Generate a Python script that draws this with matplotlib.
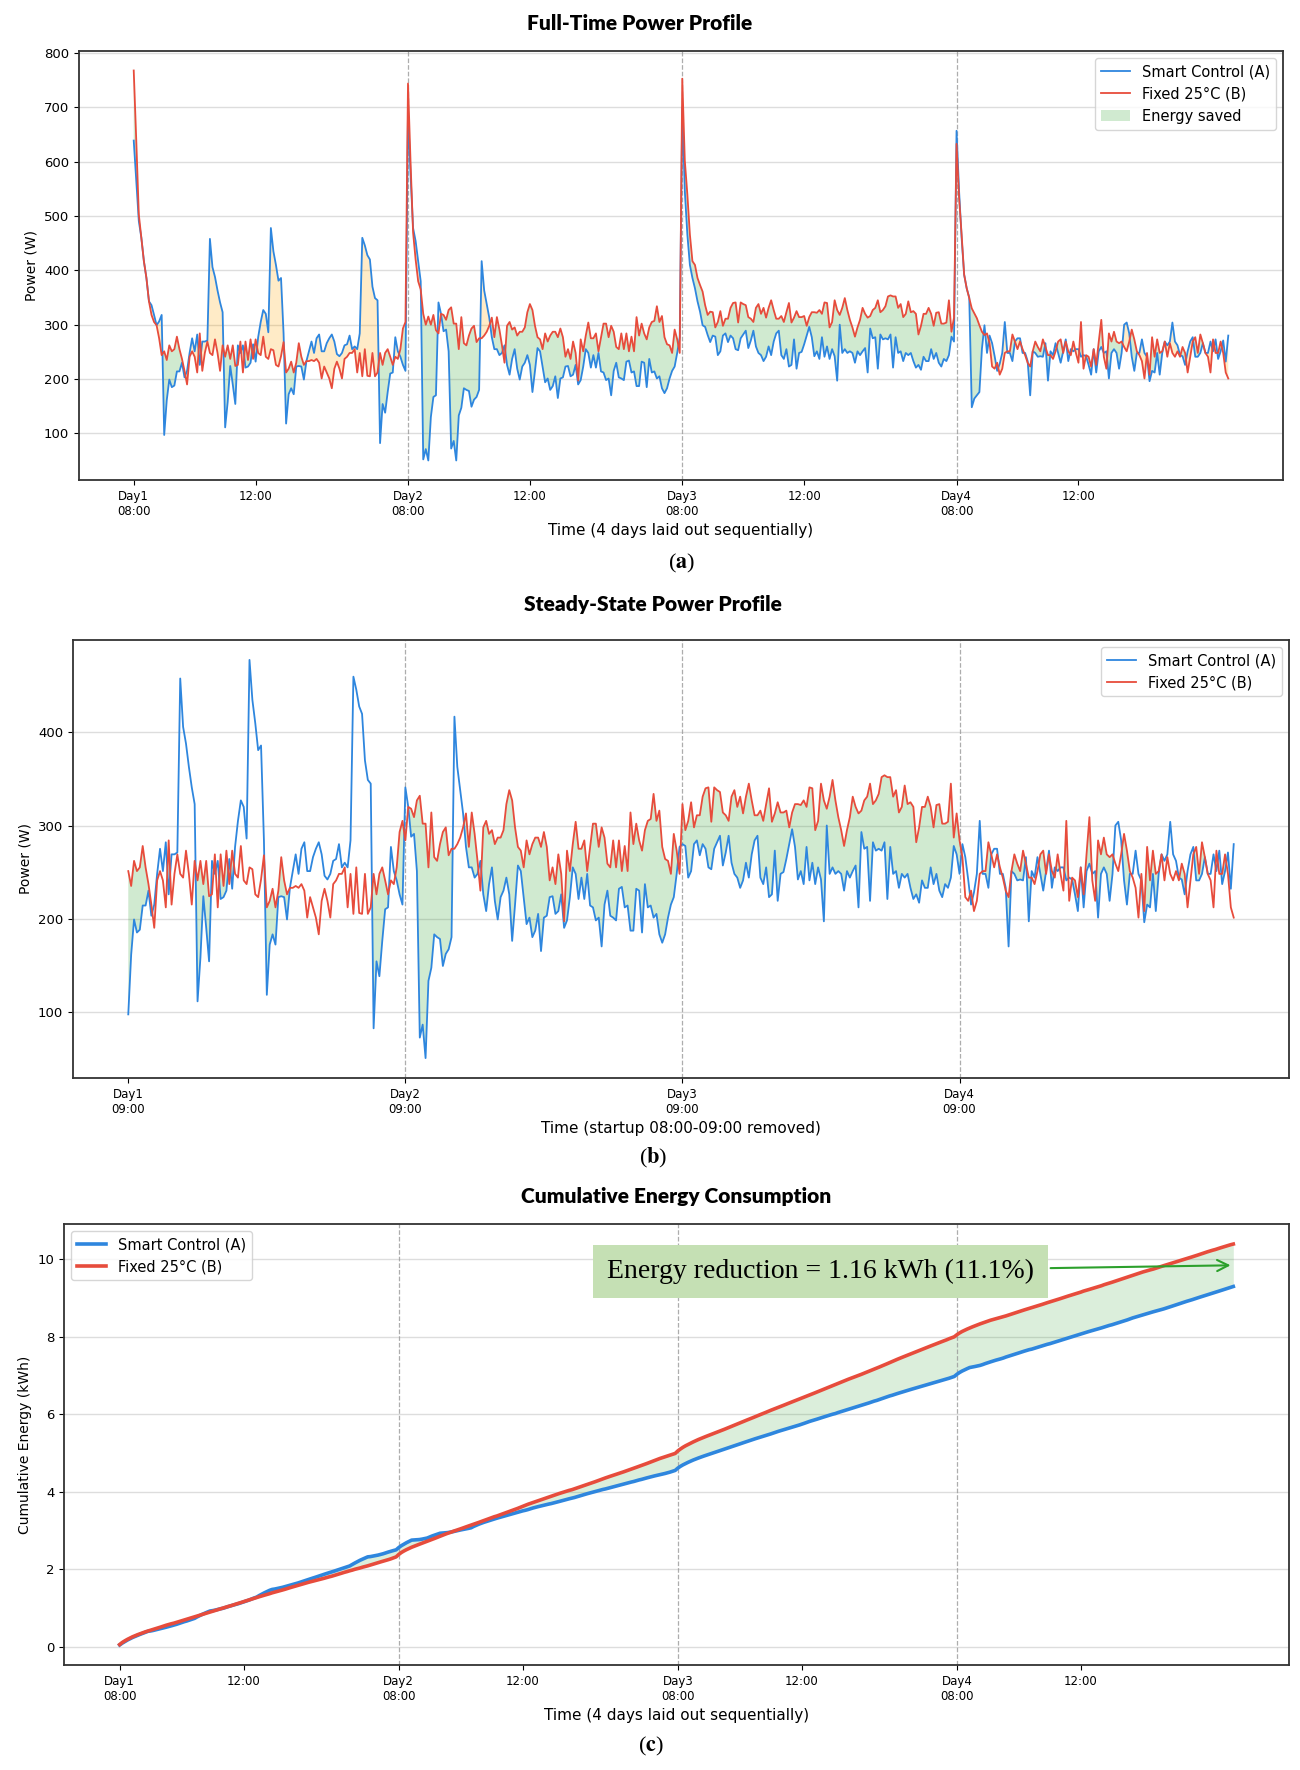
import numpy as np
import matplotlib
matplotlib.use("Agg")
import matplotlib.pyplot as plt
from matplotlib.patches import Patch

# ---------------- data (W, 5-minute samples, 08:00-16:55 each day) ----------------
smart_day1 = [639, 565, 491, 460, 417, 386, 343, 336, 318, 299, 306, 318,
              97, 161, 199, 185, 188, 214, 214, 230, 203, 215,
              248, 275, 251, 282, 226, 269, 269, 271, 458, 406,
              388, 363, 341, 323, 111, 158, 224, 190, 154, 262,
              248, 262, 221, 223, 230, 264, 232, 277, 305, 327,
              320, 286, 478, 435, 410, 381, 386, 284, 118, 172,
              183, 172, 223, 224, 223, 199, 233, 251, 269, 248,
              275, 282, 251, 251, 266, 275, 282, 269, 246, 242,
              248, 262, 264, 280, 255, 260, 255, 284, 460, 446,
              428, 420, 370, 349, 345, 82, 154, 138, 176, 210,
              212, 277, 251, 241, 226, 215]
fixed_day1 = [768, 639, 503, 460, 417, 386, 343, 318, 305, 299, 275, 244,
              251, 235, 262, 251, 255, 278, 255, 237, 215, 190,
              241, 251, 241, 212, 284, 215, 248, 269, 248, 244,
              273, 248, 215, 262, 241, 262, 237, 262, 224, 226,
              269, 212, 269, 235, 273, 237, 273, 248, 244, 278,
              241, 237, 255, 253, 226, 223, 242, 268, 212, 219,
              232, 212, 230, 266, 241, 226, 233, 233, 235, 233,
              237, 230, 201, 223, 212, 201, 183, 219, 232, 219,
              201, 237, 241, 248, 248, 255, 212, 248, 205, 255,
              206, 205, 248, 205, 212, 248, 226, 248, 255, 241,
              226, 241, 237, 255, 293, 305]
smart_day2 = [694, 577, 478, 454, 417, 380, 52, 71, 50, 130, 167, 170,
              341, 320, 288, 291, 251, 72, 86, 50, 133, 147,
              183, 180, 178, 149, 162, 167, 180, 417, 363, 338,
              313, 277, 255, 255, 244, 248, 262, 226, 208, 237,
              255, 219, 199, 223, 230, 244, 226, 176, 215, 257,
              251, 223, 194, 201, 180, 187, 205, 165, 201, 203,
              223, 224, 205, 208, 226, 190, 198, 223, 255, 248,
              221, 244, 221, 248, 214, 212, 198, 201, 170, 215,
              230, 203, 201, 198, 232, 234, 212, 214, 187, 187,
              232, 230, 185, 237, 212, 214, 201, 205, 183, 174,
              183, 201, 215, 223, 248, 277]
fixed_day2 = [744, 600, 470, 420, 380, 365, 320, 300, 315, 300, 318, 290,
              284, 320, 318, 309, 327, 332, 302, 302, 255, 314,
              266, 262, 280, 293, 298, 268, 275, 275, 280, 287,
              298, 313, 277, 314, 291, 262, 230, 298, 305, 291,
              295, 280, 287, 287, 295, 323, 338, 327, 298, 277,
              273, 255, 284, 269, 280, 287, 287, 277, 293, 277,
              241, 255, 237, 269, 248, 197, 273, 251, 280, 304,
              275, 275, 284, 251, 277, 302, 302, 277, 298, 287,
              259, 255, 284, 255, 284, 251, 278, 251, 314, 280,
              302, 284, 273, 295, 305, 307, 334, 305, 316, 277,
              264, 262, 248, 291, 273, 248]
smart_day3 = [700, 546, 466, 410, 386, 367, 343, 324, 299, 296, 281, 268,
              280, 278, 244, 251, 280, 284, 268, 280, 275, 255,
              253, 275, 282, 289, 257, 271, 289, 260, 248, 244,
              233, 241, 260, 244, 269, 284, 289, 244, 237, 255,
              223, 226, 273, 219, 248, 250, 264, 280, 296, 277,
              242, 251, 237, 277, 241, 260, 237, 255, 242, 197,
              300, 248, 255, 248, 251, 248, 230, 251, 244, 251,
              257, 212, 293, 275, 277, 219, 282, 273, 275, 273,
              282, 221, 277, 248, 251, 233, 248, 244, 248, 233,
              221, 226, 217, 241, 233, 233, 255, 237, 248, 230,
              223, 237, 233, 244, 278, 269]
fixed_day3 = [753, 602, 540, 466, 417, 410, 386, 373, 361, 336, 318, 324,
              323, 295, 305, 325, 298, 311, 311, 331, 340, 341,
              304, 341, 338, 336, 314, 311, 305, 331, 338, 320,
              331, 313, 331, 345, 327, 311, 311, 316, 305, 323,
              340, 304, 313, 325, 314, 314, 316, 298, 314, 323,
              323, 322, 327, 320, 341, 340, 295, 305, 345, 327,
              318, 331, 349, 327, 309, 295, 278, 295, 309, 331,
              320, 313, 316, 327, 331, 345, 323, 327, 334, 352,
              354, 352, 352, 331, 338, 314, 320, 343, 323, 325,
              320, 282, 298, 320, 320, 331, 320, 298, 322, 323,
              302, 302, 304, 345, 287, 313]
smart_day4 = [657, 546, 460, 392, 367, 350, 148, 164, 170, 176, 256, 299,
              248, 280, 266, 242, 215, 228, 248, 305, 248, 248,
              233, 269, 275, 275, 248, 248, 233, 170, 251, 248,
              241, 242, 241, 266, 197, 251, 244, 266, 248, 230,
              251, 273, 233, 255, 251, 255, 255, 241, 244, 242,
              226, 208, 255, 212, 251, 259, 248, 251, 201, 248,
              255, 248, 219, 248, 300, 304, 284, 241, 215, 248,
              248, 273, 248, 241, 196, 215, 212, 248, 208, 248,
              269, 262, 269, 304, 269, 262, 244, 242, 226, 251,
              269, 277, 241, 241, 248, 266, 248, 248, 269, 251,
              273, 237, 251, 271, 232, 280]
fixed_day4 = [633, 534, 466, 392, 367, 349, 330, 321, 312, 299, 287, 281,
              284, 266, 223, 219, 230, 208, 219, 248, 251, 251,
              282, 269, 255, 269, 255, 244, 230, 223, 251, 269,
              259, 251, 273, 259, 244, 244, 237, 251, 269, 273,
              248, 269, 251, 244, 269, 248, 230, 305, 219, 244,
              241, 223, 255, 226, 269, 309, 241, 219, 284, 269,
              287, 269, 266, 269, 259, 251, 269, 291, 273, 251,
              244, 233, 201, 248, 208, 277, 241, 273, 248, 251,
              269, 241, 266, 248, 241, 251, 241, 259, 248, 212,
              241, 269, 277, 248, 282, 266, 248, 241, 212, 273,
              248, 248, 269, 248, 212, 201]

full_tick_pos = [0, 4, 9, 13, 18, 22, 27, 31]
full_tick_labels = ["Day1\n08:00", "12:00", "Day2\n08:00", "12:00",
                    "Day3\n08:00", "12:00", "Day4\n08:00", "12:00"]
steady_tick_pos = [0, 8, 16, 24]
steady_tick_labels = ["Day1\n09:00", "Day2\n09:00", "Day3\n09:00", "Day4\n09:00"]
reduction_label = "Energy reduction = 1.16 kWh (11.1%)"

# ---------------- derived series ----------------
STEP_H = 5 / 60
days_smart = [smart_day1, smart_day2, smart_day3, smart_day4]
days_fixed = [fixed_day1, fixed_day2, fixed_day3, fixed_day4]
n = len(smart_day1)
k = np.arange(n)
smart = np.concatenate(days_smart).astype(float)
fixed = np.concatenate(days_fixed).astype(float)
t_full = np.concatenate([d * 9 + k * STEP_H for d in range(4)])
steady_mask = np.tile(k >= 12, 4)
t_steady = np.concatenate([d * 8 + (k[k >= 12] - 12) * STEP_H for d in range(4)])
smart_s = smart[steady_mask]
fixed_s = fixed[steady_mask]
cum_smart = np.cumsum(smart) * STEP_H / 1000
cum_fixed = np.cumsum(fixed) * STEP_H / 1000

BLUE = "#2E86DE"
RED = "#E74C3C"
GREEN = "#2ca02c"

plt.rcParams["font.family"] = ["DejaVu Sans"]
fig = plt.figure(figsize=(13, 17.7), dpi=100)
W, H = 1300, 1770


def add_axes(l, r, t, b):
    return fig.add_axes([l / W, 1 - b / H, (r - l) / W, (b - t) / H])


def style(ax):
    for s in ax.spines.values():
        s.set_linewidth(1.3)
        s.set_color("#333333")
    ax.grid(axis="y", color="#dddddd", linewidth=1.0)
    ax.set_axisbelow(True)
    ax.tick_params(axis="x", labelsize=8.5)
    ax.tick_params(axis="y", labelsize=9.5)


title_kw = dict(fontsize=15, fontweight="heavy", family=["Lato", "DejaVu Sans"], ha="center", va="center")
cap_kw = dict(fontsize=16, family=["Liberation Serif", "DejaVu Serif"], ha="center", va="center")
plt.rcParams["mathtext.fontset"] = "stix"

# ---------------- (a) full-time ----------------
ax1 = add_axes(79, 1283, 51, 480)
style(ax1)
for xv in full_tick_pos[2::2]:
    ax1.axvline(xv, color="#999999", linestyle="--", linewidth=0.9, alpha=0.8)
ax1.plot(t_full, smart, color=BLUE, lw=1.3, label="Smart Control (A)")
ax1.plot(t_full, fixed, color=RED, lw=1.3, label="Fixed 25°C (B)")
ax1.fill_between(t_full, smart, fixed, where=fixed >= smart, interpolate=True,
                 color=GREEN, alpha=0.22, linewidth=0)
ax1.fill_between(t_full, smart, fixed, where=smart > fixed, interpolate=True,
                 color="orange", alpha=0.22, linewidth=0)
h, l = ax1.get_legend_handles_labels()
h.append(Patch(facecolor=GREEN, alpha=0.22))
l.append("Energy saved")
ax1.legend(h, l, loc="upper right", fontsize=10.5)
ax1.set_xticks(full_tick_pos)
ax1.set_xticklabels(full_tick_labels)
ax1.set_ylabel("Power (W)", fontsize=10)
ax1.set_xlabel("Time (4 days laid out sequentially)", fontsize=11, labelpad=4)
fig.text(640 / W, 1 - 23 / H, "Full-Time Power Profile", **title_kw)
fig.text(682 / W, 1 - 563 / H, r"($\mathbf{a}$)", **cap_kw)

# ---------------- (b) steady-state ----------------
ax2 = add_axes(73, 1289, 640, 1078)
style(ax2)
for xv in steady_tick_pos[1:]:
    ax2.axvline(xv, color="#999999", linestyle="--", linewidth=0.9, alpha=0.8)
ax2.plot(t_steady, smart_s, color=BLUE, lw=1.3, label="Smart Control (A)")
ax2.plot(t_steady, fixed_s, color=RED, lw=1.3, label="Fixed 25°C (B)")
ax2.fill_between(t_steady, smart_s, fixed_s, where=fixed_s >= smart_s, interpolate=True,
                 color=GREEN, alpha=0.22, linewidth=0)
ax2.legend(loc="upper right", fontsize=10.5)
ax2.set_xticks(steady_tick_pos)
ax2.set_xticklabels(steady_tick_labels)
ax2.set_ylabel("Power (W)", fontsize=10)
ax2.set_xlabel("Time (startup 08:00-09:00 removed)", fontsize=11, labelpad=4)
fig.text(653 / W, 1 - 605 / H, "Steady-State Power Profile", **title_kw)
fig.text(653 / W, 1 - 1158 / H, r"($\mathbf{b}$)", **cap_kw)

# ---------------- (c) cumulative ----------------
ax3 = add_axes(64, 1289, 1224, 1665)
style(ax3)
for xv in full_tick_pos[2::2]:
    ax3.axvline(xv, color="#999999", linestyle="--", linewidth=0.9, alpha=0.8)
ax3.plot(t_full, cum_smart, color=BLUE, lw=2.6, label="Smart Control (A)")
ax3.plot(t_full, cum_fixed, color=RED, lw=2.6, label="Fixed 25°C (B)")
ax3.fill_between(t_full, cum_smart, cum_fixed, color=GREEN, alpha=0.17, linewidth=0)
ax3.legend(loc="upper left", fontsize=10.5)
ax3.set_xticks(full_tick_pos)
ax3.set_xticklabels(full_tick_labels)
ax3.set_ylabel("Cumulative Energy (kWh)", fontsize=10)
ax3.set_xlabel("Time (4 days laid out sequentially)", fontsize=11, labelpad=4)
ax3.annotate(reduction_label,
             xy=(t_full[-1], (cum_smart[-1] + cum_fixed[-1]) / 2),
             xytext=(22.6, 9.68), ha="center", va="center",
             fontsize=20, family=["Liberation Serif", "DejaVu Serif"],
             bbox=dict(boxstyle="square,pad=0.5", fc="#c5e0b4", ec="none"),
             arrowprops=dict(arrowstyle="->", color=GREEN, lw=1.5))
fig.text(676 / W, 1 - 1197 / H, "Cumulative Energy Consumption", **title_kw)
fig.text(651 / W, 1 - 1746 / H, r"($\mathbf{c}$)", **cap_kw)

fig.savefig("out.png", dpi=100, facecolor="white")
